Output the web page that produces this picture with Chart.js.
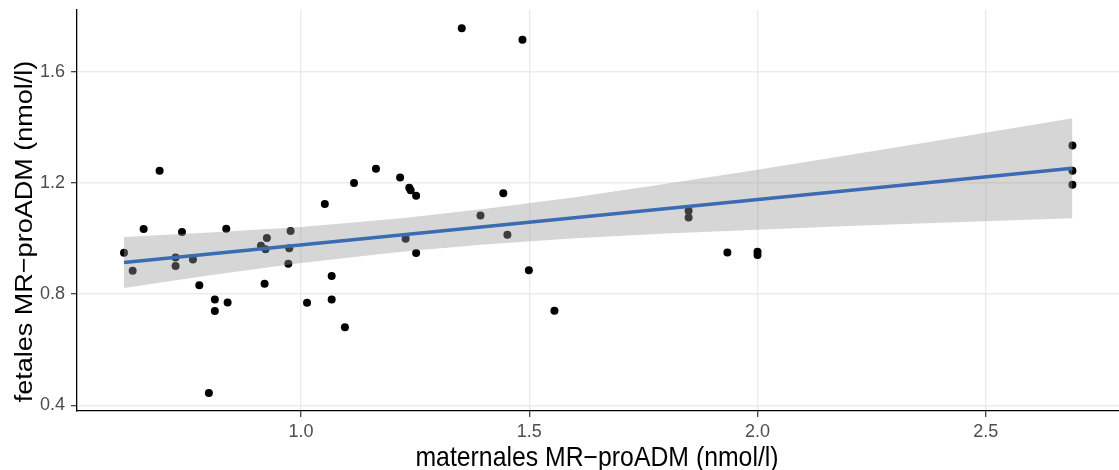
<!DOCTYPE html>
<html>
<head>
<meta charset="utf-8">
<script src="https://cdn.jsdelivr.net/npm/chart.js@4/dist/chart.umd.min.js"></script>
<style>
  html, body { margin: 0; padding: 0; background: #ffffff; }
  #wrap { width: 1119px; height: 470px; overflow: hidden; }
</style>
</head>
<body>
<div id="wrap"><canvas id="c" width="1119" height="470"></canvas></div>
<script>
// maternal MR-proADM (x) and fetal MR-proADM (y), nmol/l
const maternal = [0.612, 0.631, 0.655, 0.690, 0.725, 0.725, 0.739, 0.763, 0.777, 0.798,
                  0.811, 0.811, 0.836, 0.839, 0.912, 0.920, 0.922, 0.925, 0.972, 0.974,
                  0.977, 1.013, 1.052, 1.067, 1.067, 1.096, 1.116, 1.164, 1.217, 1.229,
                  1.237, 1.240, 1.252, 1.252, 1.352, 1.393, 1.443, 1.452, 1.485, 1.499,
                  1.555, 1.849, 1.849, 1.934, 2.000, 2.000, 2.690, 2.690, 2.690];
const fetal    = [0.949, 0.884, 1.034, 1.244, 0.932, 0.901, 1.024, 0.925, 0.832, 0.444,
                  0.781, 0.739, 1.035, 0.770, 0.974, 0.837, 0.962, 1.002, 0.909, 0.965,
                  1.027, 0.769, 1.124, 0.865, 0.781, 0.681, 1.200, 1.251, 1.220, 0.999,
                  1.183, 1.174, 1.154, 0.948, 1.757, 1.083, 1.163, 1.014, 1.715, 0.886,
                  0.740, 1.100, 1.076, 0.950, 0.953, 0.941, 1.335, 1.244, 1.194];

// linear fit
const fitX = [0.612, 2.690];
const fitY = [0.914, 1.253];

// confidence band
const bandX     = [0.612, 0.8, 1.0, 1.22, 1.4, 1.6, 1.8, 2.0, 2.2, 2.4, 2.69];
const bandUpper = [1.006, 1.022, 1.042, 1.073, 1.106, 1.149, 1.197, 1.248, 1.301, 1.354, 1.433];
const bandLower = [0.822, 0.868, 0.912, 0.953, 0.979, 1.001, 1.018, 1.032, 1.045, 1.057, 1.073];

const xTicks = [1.0, 1.5, 2.0, 2.5];
const yTicks = [0.4, 0.8, 1.2, 1.6];

const xTitle = 'maternales MR\u2212proADM (nmol/l)';
const yTitle = 'fetales MR\u2212proADM (nmol/l)';

const pts = (xs, ys) => xs.map((x, i) => ({ x: x, y: ys[i] }));

const FONT = '"Liberation Sans", Arial, Helvetica, sans-serif';

// axis titles drawn as canvas text (slightly stretched like the reference)
const axisTitles = {
  id: 'axisTitles',
  afterDraw(chart) {
    const ctx = chart.ctx;
    ctx.save();
    ctx.fillStyle = '#000000';
    ctx.font = '24.8px ' + FONT;
    ctx.textAlign = 'center';
    ctx.textBaseline = 'alphabetic';
    // x title
    ctx.save();
    ctx.translate(597, 466);
    ctx.scale(1, 1.09);
    ctx.fillText(xTitle, 0, 0);
    ctx.restore();
    // y title
    ctx.save();
    ctx.translate(31.5, 231.5);
    ctx.rotate(-Math.PI / 2);
    ctx.scale(1.09, 1);
    ctx.fillText(yTitle, 0, 0);
    ctx.restore();
    ctx.restore();
  }
};

new Chart(document.getElementById('c'), {
  type: 'scatter',
  data: {
    datasets: [
      { // regression line (drawn on top)
        data: pts(fitX, fitY), showLine: true, borderColor: '#3A6BB3', borderWidth: 3.4,
        pointRadius: 0, fill: false, tension: 0
      },
      { // band upper, filled to lower
        data: pts(bandX, bandUpper), showLine: true, borderWidth: 0, borderColor: 'rgba(0,0,0,0)',
        pointRadius: 0, fill: '+1', backgroundColor: 'rgba(153,153,153,0.4)', tension: 0
      },
      { // band lower
        data: pts(bandX, bandLower), showLine: true, borderWidth: 0, borderColor: 'rgba(0,0,0,0)',
        pointRadius: 0, fill: false, tension: 0
      },
      { // observations
        data: pts(maternal, fetal), showLine: false, pointRadius: 4, pointBorderWidth: 0,
        pointBackgroundColor: '#000000', pointBorderColor: '#000000'
      }
    ]
  },
  plugins: [axisTitles],
  options: {
    responsive: false,
    animation: false,
    layout: { autoPadding: false, padding: { top: 10, right: 0, left: 0, bottom: 0 } },
    plugins: { legend: { display: false }, tooltip: { enabled: false } },
    scales: {
      x: {
        type: 'linear', min: 0.509, max: 2.792,
        afterBuildTicks: s => { s.ticks = xTicks.map(v => ({ value: v })); },
        afterFit: s => { s.height = 59; s.paddingLeft = 0; s.paddingRight = 0; s.paddingTop = 0; s.paddingBottom = 0; },
        grid: { color: '#ebebeb', lineWidth: 1.4, tickColor: '#333333', tickLength: 6, tickWidth: 1.2 },
        border: { color: '#000000', width: 1.3 },
        ticks: { color: '#4d4d4d', font: { family: FONT, size: 18 }, padding: 4, maxRotation: 0,
                 callback: v => v.toFixed(1) },
        title: { display: false }
      },
      y: {
        type: 'linear', min: 0.3795, max: 1.8225,
        afterBuildTicks: s => { s.ticks = yTicks.map(v => ({ value: v })); },
        afterFit: s => { s.width = 77; s.paddingLeft = 0; s.paddingRight = 0; s.paddingTop = 0; s.paddingBottom = 0; },
        grid: { color: '#ebebeb', lineWidth: 1.4, tickColor: '#333333', tickLength: 6, tickWidth: 1.2 },
        border: { color: '#000000', width: 1.3 },
        ticks: { color: '#4d4d4d', font: { family: FONT, size: 18 }, padding: 6,
                 callback: v => v.toFixed(1) },
        title: { display: false }
      }
    }
  }
});
</script>
</body>
</html>
